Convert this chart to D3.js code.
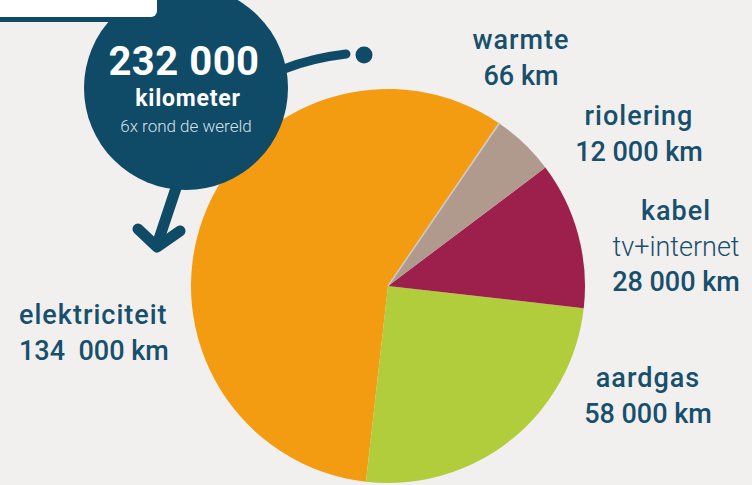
<!DOCTYPE html>
<html>
<head>
<meta charset="utf-8">
<script src="https://cdn.jsdelivr.net/npm/d3@7"></script>
<style>
  html, body { margin: 0; padding: 0; background: #f2efef; overflow: hidden; }
  #chart { width: 752px; height: 485px; }
  text { font-family: Roboto, "Liberation Sans", sans-serif; }
</style>
</head>
<body>
<div id="chart"></div>
<script>
// data
const names = ["warmte", "riolering", "kabel", "aardgas", "elektriciteit"];
const lengthKm = [66, 12000, 28000, 58000, 134000];
const valueLabels = ["66 km", "12 000 km", "28 000 km", "58 000 km", "134  000 km"];
const subLabels = ["", "", "tv+internet", "", ""];
const totalLabel = "232 000";
const totalUnit = "kilometer";
const totalNote = "6x rond de wereld";

(function() {
    const width = 752, height = 485;
    const navy = "#0f4a67";
    const textColor = "#17506c";

    const color = d3.scaleOrdinal()
        .domain(names)
        .range(["#cfc8c4", "#b0998d", "#9d1f4b", "#b1cd3b", "#f39c11"]);

    const svg = d3.select("#chart").append("svg")
        .attr("width", width)
        .attr("height", height);

    svg.append("rect")
        .attr("width", width).attr("height", height)
        .attr("fill", "#f2efef");

    // pie
    const cx = 388, cy = 286, radius = 197;
    const start = 34.3 * Math.PI / 180;

    const pie = d3.pie()
        .sort(null)
        .value(d => d.value)
        .startAngle(start)
        .endAngle(start + 2 * Math.PI);

    const arc = d3.arc().innerRadius(0).outerRadius(radius);

    const data = names.map((n, i) => ({ name: n, value: lengthKm[i], label: valueLabels[i], sub: subLabels[i] }));

    const g = svg.append("g").attr("transform", `translate(${cx},${cy})`);

    // draw the big slices first, tiny warmte slice last so it stays visible
    const arcs = pie(data);
    g.selectAll("path")
        .data(arcs.slice().sort((a, b) => b.value - a.value))
        .enter().append("path")
        .attr("d", arc)
        .attr("fill", d => color(d.data.name))
        .attr("stroke", d => d.data.value < 1000 ? color(d.data.name) : "none")
        .attr("stroke-width", 1.5);

    // labels (anchor positions on the page)
    const labelPos = {
        warmte:        { x: 521, y: 49,  anchor: "middle" },
        riolering:     { x: 639, y: 125, anchor: "middle" },
        kabel:         { x: 676, y: 220, anchor: "middle" },
        aardgas:       { x: 648, y: 387, anchor: "middle" },
        elektriciteit: { x: 19,  y: 324, anchor: "start" }
    };
    const lineH = 35.5;

    data.forEach(d => {
        const p = labelPos[d.name];
        const t = svg.append("text")
            .attr("x", p.x).attr("y", p.y)
            .attr("text-anchor", p.anchor)
            .attr("fill", textColor)
            .style("font-size", "27px")
            .style("white-space", "pre");
        t.append("tspan").attr("x", p.x).attr("dy", 0)
            .style("font-weight", 500)
            .style("letter-spacing", "1px")
            .text(d.name);
        if (d.sub) {
            t.append("tspan").attr("x", p.x).attr("dy", lineH)
                .style("font-weight", 300).text(d.sub);
        }
        t.append("tspan").attr("x", p.x).attr("dy", lineH)
            .style("font-weight", 500).text(d.label);
    });

    // total bubble
    const bx = 186, by = 88, br = 102;

    svg.append("path")
        .attr("d", "M284,69 Q312,58 346,54")
        .attr("fill", "none")
        .attr("stroke", navy)
        .attr("stroke-width", 9)
        .attr("stroke-linecap", "round");
    svg.append("circle")
        .attr("cx", 364).attr("cy", 55).attr("r", 8.5)
        .attr("fill", navy);

    svg.append("path")
        .attr("d", "M178,182 Q168,212 157,245")
        .attr("fill", "none")
        .attr("stroke", navy)
        .attr("stroke-width", 11)
        .attr("stroke-linecap", "round");
    svg.append("path")
        .attr("d", "M138,229 L157,247 L180,231")
        .attr("fill", "none")
        .attr("stroke", navy)
        .attr("stroke-width", 11)
        .attr("stroke-linecap", "round")
        .attr("stroke-linejoin", "round");

    svg.append("circle")
        .attr("cx", bx).attr("cy", by).attr("r", br)
        .attr("fill", navy);

    svg.append("text")
        .attr("x", 184).attr("y", 75)
        .attr("text-anchor", "middle")
        .attr("fill", "#ffffff")
        .style("font-size", "40px")
        .style("font-weight", 700)
        .style("letter-spacing", "0.5px")
        .text(totalLabel);
    svg.append("text")
        .attr("x", 188).attr("y", 106)
        .attr("text-anchor", "middle")
        .attr("fill", "#ffffff")
        .style("font-size", "23px")
        .style("font-weight", 700)
        .style("letter-spacing", "0.8px")
        .text(totalUnit);
    svg.append("text")
        .attr("x", 186).attr("y", 132)
        .attr("text-anchor", "middle")
        .attr("fill", "#d6e0e5")
        .style("font-size", "17px")
        .style("font-weight", 300)
        .text(totalNote);

    // header tab at top-left (mostly cut off)
    svg.append("rect")
        .attr("x", -12).attr("y", -12).attr("width", 172).attr("height", 34)
        .attr("rx", 7).attr("fill", navy);
    svg.append("rect")
        .attr("x", -12).attr("y", -12).attr("width", 169).attr("height", 29)
        .attr("rx", 6).attr("fill", "#ffffff");
    svg.append("text")
        .attr("x", 28).attr("y", 0)
        .attr("fill", navy)
        .style("font-size", "22px")
        .style("font-weight", 700)
        .text("Netten");
})();
</script>
</body>
</html>
